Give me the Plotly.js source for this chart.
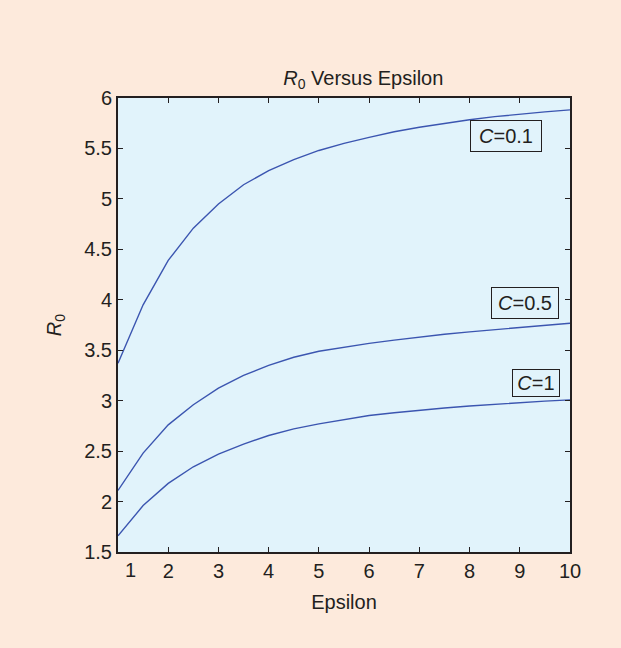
<!DOCTYPE html>
<html>
<head>
<meta charset="utf-8">
<script src="https://cdn.plot.ly/plotly-3.0.1.min.js"></script>
<style>html,body{margin:0;padding:0;background:#fdeadc;}#chart{width:621px;height:648px;}</style>
</head>
<body>
<div id="chart"></div>
<script>
var epsilon = [1, 1.5, 2, 2.5, 3, 3.5, 4, 4.5, 5, 5.5, 6, 6.5, 7, 7.5, 8, 8.5, 9, 9.5, 10];
var r0C01 = [3.37, 3.95, 4.39, 4.71, 4.95, 5.14, 5.28, 5.39, 5.48, 5.55, 5.61, 5.665, 5.71, 5.75, 5.785, 5.815, 5.84, 5.862, 5.882];
var r0C05 = [2.11, 2.48, 2.76, 2.96, 3.125, 3.25, 3.35, 3.43, 3.49, 3.53, 3.568, 3.60, 3.632, 3.658, 3.682, 3.705, 3.728, 3.748, 3.767];
var r0C1 = [1.66, 1.96, 2.18, 2.345, 2.47, 2.57, 2.655, 2.72, 2.77, 2.81, 2.853, 2.88, 2.905, 2.927, 2.947, 2.965, 2.98, 2.995, 3.008];
var seriesLabels = ['<i>C</i>=0.1', '<i>C</i>=0.5', '<i>C</i>=1'];
var xTicks = [1, 2, 3, 4, 5, 6, 7, 8, 9, 10];

var lineColor = '#3b55b0';
var textColor = '#231f20';
var fontFam = '"Liberation Sans", Arial, Helvetica, sans-serif';
var fs = 20;

function trace(y) {
  return {x: epsilon, y: y, type: 'scatter', mode: 'lines',
          line: {color: lineColor, width: 1.4}, hoverinfo: 'skip', showlegend: false};
}

var data = [trace(r0C01), trace(r0C05), trace(r0C1)];

function boxLabel(text, x, y, w, h) {
  return {text: text, x: x, y: y, xref: 'x', yref: 'y', showarrow: false,
          width: w, height: h, align: 'center', valign: 'middle',
          font: {family: fontFam, size: fs, color: textColor},
          bordercolor: textColor, borderwidth: 1, borderpad: 2, bgcolor: 'rgba(0,0,0,0)'};
}

var layout = {
  width: 621, height: 648,
  paper_bgcolor: '#fdeadc',
  plot_bgcolor: '#e1f3fb',
  margin: {l: 118, r: 51, t: 98, b: 96},
  font: {family: fontFam, size: fs, color: textColor},
  title: {text: '<i>R</i><sub>0</sub> Versus Epsilon', x: 0.585, xanchor: 'center', y: 0.88, yanchor: 'middle',
          font: {family: fontFam, size: fs, color: textColor}},
  xaxis: {
    range: [1, 10], tickvals: xTicks,
    ticktext: xTicks.map(function (v) { return v === 1 ? ' ' : String(v); }),
    ticks: 'inside', ticklen: 5, tickwidth: 1, tickcolor: textColor,
    showline: true, linewidth: 2, linecolor: textColor, mirror: 'ticks',
    showgrid: false, zeroline: false,
    tickfont: {family: fontFam, size: fs, color: textColor},
    title: {text: 'Epsilon', standoff: 14, font: {family: fontFam, size: fs, color: textColor}}
  },
  yaxis: {
    range: [1.5, 6], dtick: 0.5, tick0: 1.5,
    ticks: 'inside', ticklen: 5, tickwidth: 1, tickcolor: textColor,
    showline: true, linewidth: 2, linecolor: textColor, mirror: 'ticks',
    showgrid: false, zeroline: false,
    tickfont: {family: fontFam, size: fs, color: textColor},
    title: {text: '<i>R</i><sub>0</sub>', standoff: 17, font: {family: fontFam, size: fs, color: textColor}}
  },
  annotations: [
    boxLabel(seriesLabels[0], 8.73, 5.62, 66, 26),
    boxLabel(seriesLabels[1], 9.10, 3.97, 62, 26),
    boxLabel(seriesLabels[2], 9.32, 3.175, 42, 22),
    {text: String(xTicks[0]), x: xTicks[0], y: 0, xref: 'x', yref: 'paper', xanchor: 'center', yanchor: 'top',
     xshift: 12, yshift: -5, showarrow: false, font: {family: fontFam, size: fs, color: textColor}}
  ]
};

Plotly.newPlot('chart', data, layout, {displayModeBar: false, staticPlot: true});
</script>
</body>
</html>
